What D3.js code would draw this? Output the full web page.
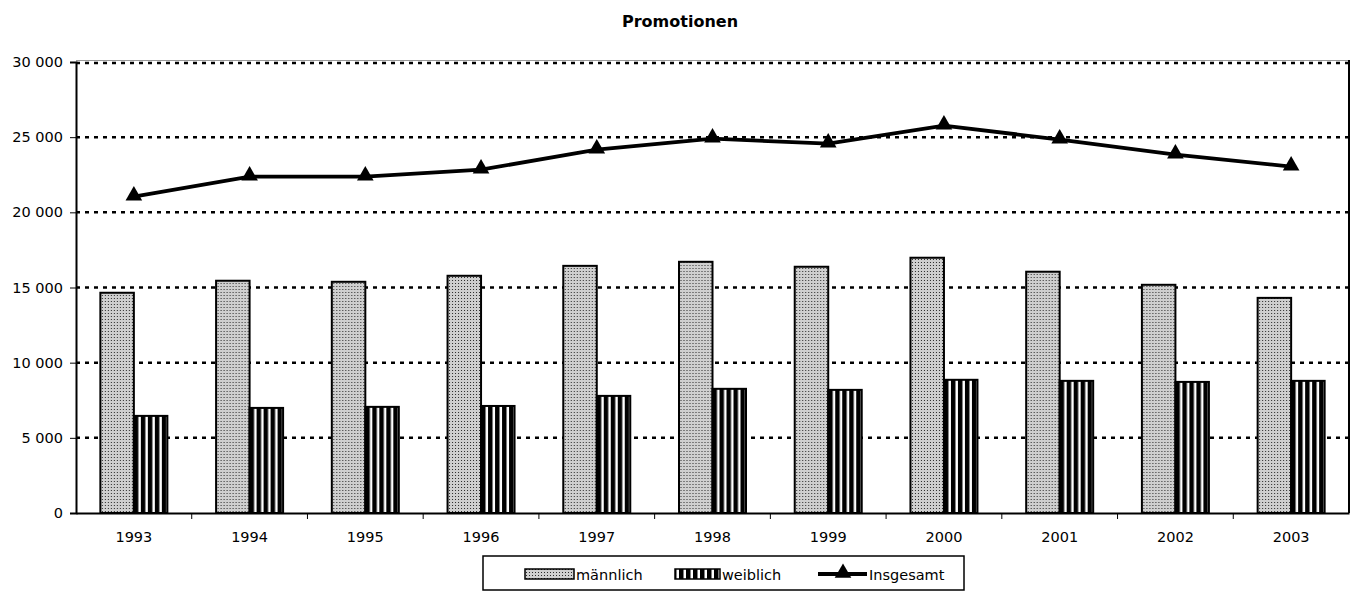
<!DOCTYPE html>
<html>
<head>
<meta charset="utf-8">
<script src="https://cdn.jsdelivr.net/npm/d3@7"></script>
<style>
  body { margin: 0; background: #fff; }
  text { font-family: "DejaVu Sans", sans-serif; fill: #000; }
</style>
</head>
<body>
<div id="chart"></div>
<script>
// data
var years = ["1993", "1994", "1995", "1996", "1997", "1998", "1999", "2000", "2001", "2002", "2003"];
var maennlich = [14650, 15450, 15380, 15780, 16440, 16710, 16380, 16980, 16050, 15180, 14310];
var weiblich = [6460, 6990, 7060, 7120, 7790, 8260, 8190, 8860, 8790, 8720, 8790];
var insgesamt = [21040, 22370, 22370, 22840, 24170, 24900, 24570, 25770, 24840, 23840, 23040];
var yTicks = [0, 5000, 10000, 15000, 20000, 25000, 30000];

var W = 1358, H = 593;
var margin = {top: 62, right: 9, bottom: 80, left: 76};

var svg = d3.select("#chart").append("svg")
  .attr("width", W)
  .attr("height", H);

// patterns
var defs = svg.append("defs");
var pDot = defs.append("pattern")
  .attr("id", "dots")
  .attr("patternUnits", "userSpaceOnUse")
  .attr("width", 3).attr("height", 3);
pDot.append("rect").attr("width", 3).attr("height", 3).attr("fill", "#cfcfcf");
pDot.append("rect").attr("x", 1).attr("y", 1).attr("width", 1).attr("height", 1).attr("fill", "#2a2a2a");

var pStripe = defs.append("pattern")
  .attr("id", "stripes")
  .attr("patternUnits", "userSpaceOnUse")
  .attr("width", 7).attr("height", 7);
pStripe.append("rect").attr("width", 7).attr("height", 7).attr("fill", "#000");
pStripe.append("rect").attr("x", 4.5).attr("width", 2.5).attr("height", 7).attr("fill", "#fff");

var x = d3.scaleBand()
  .domain(years)
  .range([margin.left, W - margin.right]);

var y = d3.scaleLinear()
  .domain([0, 30000])
  .range([H - margin.bottom, margin.top]);

var fmt = function (d) { return d3.format(",")(d).replace(",", " "); };

// plot frame: thin top line, solid right border
svg.append("line")
  .attr("x1", margin.left).attr("x2", W - margin.right)
  .attr("y1", y(30000) - 1.5).attr("y2", y(30000) - 1.5)
  .attr("stroke", "#999").attr("stroke-width", 1);
svg.append("line")
  .attr("x1", W - margin.right).attr("x2", W - margin.right)
  .attr("y1", y(30000) - 2).attr("y2", y(0))
  .attr("stroke", "#000").attr("stroke-width", 2);

// gridlines
svg.append("g")
  .selectAll("line")
  .data(yTicks.filter(d => d > 0))
  .join("line")
  .attr("x1", margin.left)
  .attr("x2", W - margin.right)
  .attr("y1", d => y(d) + (d === 30000 ? 1 : 0))
  .attr("y2", d => y(d) + (d === 30000 ? 1 : 0))
  .attr("stroke", "#000")
  .attr("stroke-width", 2.5)
  .attr("stroke-dasharray", "4,5");

// bars
var barW = 33.5;
var groups = svg.append("g")
  .selectAll("g")
  .data(years)
  .join("g")
  .attr("transform", d => "translate(" + (x(d) + x.bandwidth() / 2) + ",0)");

groups.append("rect")
  .attr("x", -barW)
  .attr("y", (d, i) => y(maennlich[i]))
  .attr("width", barW)
  .attr("height", (d, i) => y(0) - y(maennlich[i]))
  .attr("fill", "url(#dots)")
  .attr("stroke", "#000")
  .attr("stroke-width", 2);

groups.append("rect")
  .attr("x", 0)
  .attr("y", (d, i) => y(weiblich[i]))
  .attr("width", barW)
  .attr("height", (d, i) => y(0) - y(weiblich[i]))
  .attr("fill", "url(#stripes)")
  .attr("stroke", "#000")
  .attr("stroke-width", 2);

// total line
var line = d3.line()
  .x((d, i) => x(years[i]) + x.bandwidth() / 2)
  .y(d => y(d));

svg.append("path")
  .datum(insgesamt)
  .attr("fill", "none")
  .attr("stroke", "#000")
  .attr("stroke-width", 3.8)
  .attr("d", line);

var tri = d3.symbol().type(d3.symbolTriangle).size(120);
svg.append("g")
  .selectAll("path")
  .data(insgesamt)
  .join("path")
  .attr("transform", (d, i) => "translate(" + (x(years[i]) + x.bandwidth() / 2) + "," + (y(d) - 1) + ")")
  .attr("d", tri)
  .attr("fill", "#000");

// axes
var yAxis = svg.append("g")
  .attr("transform", "translate(" + margin.left + ",0)")
  .call(d3.axisLeft(y).tickValues(yTicks).tickFormat(fmt).tickSize(6).tickPadding(7));
yAxis.select(".domain").attr("stroke-width", 2);
yAxis.selectAll("text").style("font-size", "14.5px");

var xAxis = svg.append("g")
  .attr("transform", "translate(0," + y(0) + ")")
  .call(d3.axisBottom(x).tickSize(0).tickSizeOuter(0).tickPadding(19));
xAxis.select(".domain").attr("stroke-width", 2);
xAxis.selectAll("text").style("font-size", "14.5px");
xAxis.selectAll(".sep")
  .data(years.slice(1))
  .join("line")
  .attr("class", "sep")
  .attr("x1", d => x(d)).attr("x2", d => x(d))
  .attr("y1", 0).attr("y2", 6)
  .attr("stroke", "#000");

// title
svg.append("text")
  .attr("x", 680)
  .attr("y", 27)
  .attr("text-anchor", "middle")
  .style("font-size", "16px")
  .style("font-weight", "bold")
  .text("Promotionen");

// legend
var lg = svg.append("g").attr("transform", "translate(483,556)");
lg.append("rect")
  .attr("width", 481).attr("height", 34)
  .attr("fill", "#fff").attr("stroke", "#000").attr("stroke-width", 1.5);

lg.append("rect").attr("x", 42).attr("y", 13).attr("width", 49).attr("height", 10)
  .attr("fill", "url(#dots)").attr("stroke", "#000").attr("stroke-width", 1.5);
lg.append("text").attr("x", 93).attr("y", 24).style("font-size", "14.5px").text("männlich");

lg.append("rect").attr("x", 192).attr("y", 13).attr("width", 45).attr("height", 10)
  .attr("fill", "url(#stripes)").attr("stroke", "#000").attr("stroke-width", 1.5);
lg.append("text").attr("x", 239).attr("y", 24).style("font-size", "14.5px").text("weiblich");

lg.append("line").attr("x1", 335).attr("x2", 384).attr("y1", 18).attr("y2", 18)
  .attr("stroke", "#000").attr("stroke-width", 3.8);
lg.append("path").attr("transform", "translate(360,17)").attr("d", tri).attr("fill", "#000");
lg.append("text").attr("x", 386).attr("y", 24).style("font-size", "14.5px").text("Insgesamt");
</script>
</body>
</html>
